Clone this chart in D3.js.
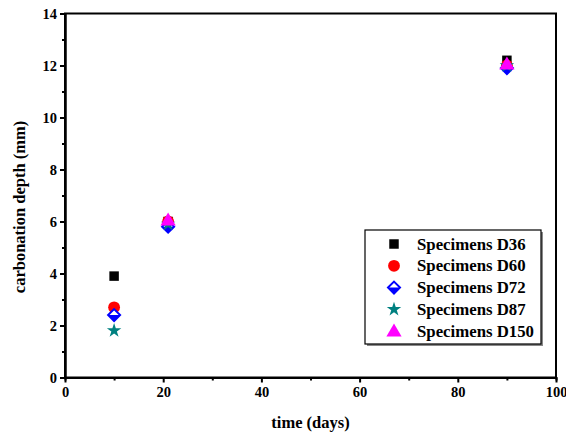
<!DOCTYPE html>
<html><head><meta charset="utf-8">
<script src="https://cdn.jsdelivr.net/npm/d3@7"></script>
<style>body{margin:0;background:#fff}text{font-family:"Liberation Serif","Times New Roman",serif;font-weight:bold}</style>
</head><body><svg id="c" width="566" height="437"></svg>
<script>
const days = [10, 21, 90];
const seriesNames = ["Specimens D36","Specimens D60","Specimens D72","Specimens D87","Specimens D150"];
const d36 = [3.9, 6.0, 12.2];
const d60 = [2.7, 6.0, 12.0];
const d72 = [2.4, 5.8, 11.9];
const d87 = [1.8, 5.9, 12.0];
const d150 = [null, 6.05, 12.05];
const xTicks = [0,20,40,60,80,100];
const yTicks = [0,2,4,6,8,10,12,14];
const colors = ["#000000","#ff0000","#0000ff","#008080","#ff00ff"];
const symbols = [d3.symbolSquare, d3.symbolCircle, "diamond", d3.symbolStar, d3.symbolTriangle];
const values = [d36,d60,d72,d87,d150];

const svg = d3.select("#c");
const m = {l:65,r:556,t:13.5,b:377.5};
const x = d3.scaleLinear().domain([0,100]).range([m.l,m.r]);
const y = d3.scaleLinear().domain([0,14]).range([m.b,m.t]);

svg.append("rect").attr("x",m.l).attr("y",m.t).attr("width",m.r-m.l).attr("height",m.b-m.t)
  .attr("fill","none").attr("stroke","#000").attr("stroke-width",2);

svg.append("g").attr("transform",`translate(0,${m.b})`)
  .call(d3.axisBottom(x).tickValues(xTicks).tickSize(5).tickSizeOuter(0).tickPadding(4));
svg.append("g").attr("transform",`translate(0,${m.b})`)
  .call(d3.axisBottom(x).tickValues(d3.range(10,100,20)).tickSize(3).tickFormat(""));
svg.append("g").attr("transform",`translate(${m.l},0)`)
  .call(d3.axisLeft(y).tickValues(yTicks).tickSize(5).tickSizeOuter(0).tickPadding(3));
svg.append("g").attr("transform",`translate(${m.l},0)`)
  .call(d3.axisLeft(y).tickValues(d3.range(1,14,2)).tickSize(3).tickFormat(""));
svg.selectAll(".domain").attr("stroke","#000").attr("stroke-width",2);
svg.selectAll(".tick line").attr("stroke","#000").attr("stroke-width",2);
svg.selectAll(".tick text").attr("font-size",14.5).attr("fill","#000")
  .style("font-family","'Liberation Serif',serif").style("font-weight","bold");

svg.append("text").attr("x",(m.l+m.r)/2).attr("y",428).attr("text-anchor","middle")
  .attr("font-size",16.5).text("time (days)");
svg.append("text").attr("transform",`translate(25,207) rotate(-90)`).attr("text-anchor","middle")
  .attr("font-size",16.5).text("carbonation depth (mm)");

function drawSym(g, i, cx, cy){
  const c = colors[i];
  if(symbols[i]==="diamond"){
    const s=6;
    g.append("path").attr("d",`M${cx},${cy-s}L${cx+s},${cy}L${cx},${cy+s}L${cx-s},${cy}Z`)
      .attr("fill","#fff").attr("stroke",c).attr("stroke-width",2);
    g.append("path").attr("d",`M${cx-s},${cy}L${cx+s},${cy}L${cx},${cy+s}Z`).attr("fill",c);
  } else {
    const sizes=[90,110,0,65,100];
    g.append("path").attr("d",d3.symbol().type(symbols[i]).size(sizes[i])())
      .attr("transform",`translate(${cx},${cy+(i===4?1:0)})`).attr("fill",c);
  }
}
const pts = svg.append("g");
values.forEach((vals,i)=>{
  vals.forEach((v,j)=>{ if(v!=null) drawSym(pts,i,x(days[j]),y(v)); });
});

const lg = svg.append("g");
lg.append("rect").attr("x",367).attr("y",232).attr("width",176).attr("height",114).attr("fill","#888");
lg.append("rect").attr("x",365).attr("y",230).attr("width",176).attr("height",114)
  .attr("fill","#fff").attr("stroke","#000").attr("stroke-width",1.2);
seriesNames.forEach((n,i)=>{
  const yy = 244 + i*21.8;
  drawSym(lg,i,394,yy);
  lg.append("text").attr("x",417).attr("y",yy+5.5).attr("font-size",16.8).text(n);
});
</script></body></html>
